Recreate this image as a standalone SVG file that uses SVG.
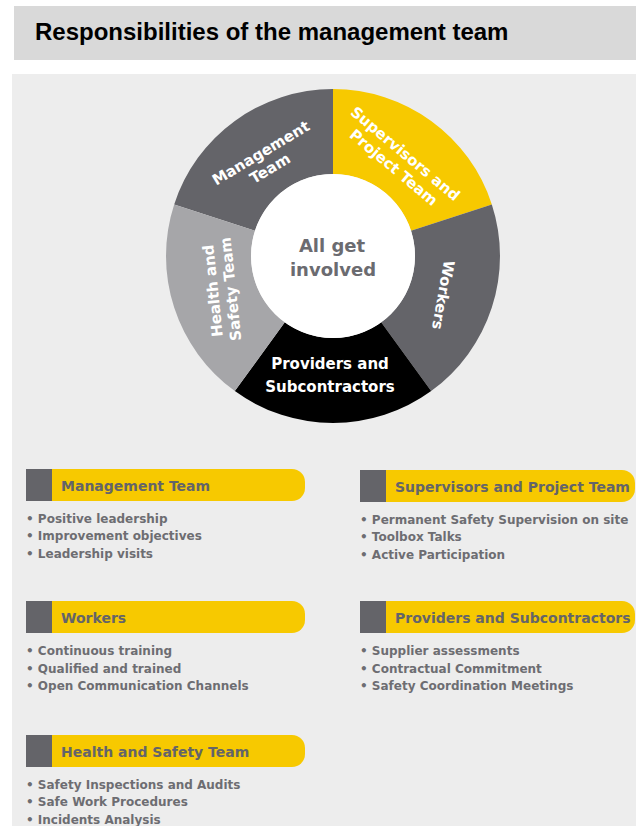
<svg xmlns="http://www.w3.org/2000/svg" width="636" height="826" viewBox="0 0 636 826">
<style>
.title{font-family:"Liberation Sans",Arial,sans-serif;font-weight:bold;font-size:24px;fill:#000}
.seg-label{font-family:"DejaVu Sans",Verdana,sans-serif;font-weight:bold;font-size:15px;fill:#fff;text-anchor:middle}
.center-label{font-family:"DejaVu Sans",Verdana,sans-serif;font-weight:bold;font-size:18px;fill:#6b6b70;text-anchor:middle}
.hdr{font-family:"DejaVu Sans",Verdana,sans-serif;font-weight:bold;font-size:14px;fill:#646469}
.bul{font-family:"DejaVu Sans",Verdana,sans-serif;font-weight:bold;font-size:12px;fill:#6d6d72}
.sq{fill:#646469}
.bar{fill:#f7c900}
</style>
<defs>
<path id="barL" d="M0,0 H240 A13,13 0 0 1 253,13 V19 A13,13 0 0 1 240,32 H0 Z"/>
</defs>
<rect x="14" y="6" width="622" height="54" fill="#d9d9d9"/>
<text class="title" x="35" y="40">Responsibilities of the management team</text>
<rect x="12" y="74" width="624" height="752" fill="#ededed"/>

<g id="seg-management">
<path d="M174.17,204.40 A167,167 0 0 1 333,89 L333,174 A82,82 0 0 0 255.01,230.66 Z" fill="#646469"/>
<g transform="translate(265,160) rotate(-31)"><text class="seg-label" y="-3">Management</text><text class="seg-label" y="15">Team</text></g>
</g>
<g id="seg-supervisors">
<path d="M333,89 A167,167 0 0 1 491.83,204.40 L410.99,230.66 A82,82 0 0 0 333,174 Z" fill="#f7c900"/>
<g transform="translate(400,160) rotate(40)"><text class="seg-label" y="-3">Supervisors and</text><text class="seg-label" y="15">Project Team</text></g>
</g>
<g id="seg-workers">
<path d="M491.83,204.40 A167,167 0 0 1 431.16,391.10 L381.20,322.34 A82,82 0 0 0 410.99,230.66 Z" fill="#646469"/>
<g transform="translate(443,295) rotate(100)"><text class="seg-label" y="5">Workers</text></g>
</g>
<g id="seg-providers">
<path d="M431.16,391.10 A167,167 0 0 1 234.84,391.10 L284.80,322.34 A82,82 0 0 0 381.20,322.34 Z" fill="#000"/>
<text class="seg-label" x="330" y="369">Providers and</text><text class="seg-label" x="330" y="392">Subcontractors</text>
</g>
<g id="seg-health">
<path d="M234.84,391.10 A167,167 0 0 1 174.17,204.40 L255.01,230.66 A82,82 0 0 0 284.80,322.34 Z" fill="#a6a6a9"/>
<g transform="translate(221,290) rotate(-96)"><text class="seg-label" y="-3">Health and</text><text class="seg-label" y="15">Safety Team</text></g>
</g>
<g id="center">
<circle cx="333" cy="256" r="82" fill="#fff"/>
<text class="center-label" x="332" y="252">All get</text>
<text class="center-label" x="333" y="276">involved</text>
</g>

<g id="box-management">
<rect class="sq" x="26" y="469" width="26" height="32"/>
<use href="#barL" class="bar" x="52" y="469"/>
<text class="hdr" x="61" y="491">Management Team</text>
<text class="bul" x="26" y="523">• Positive leadership</text>
<text class="bul" x="26" y="540">• Improvement objectives</text>
<text class="bul" x="26" y="558">• Leadership visits</text>
</g>
<g id="box-supervisors">
<rect class="sq" x="360" y="470" width="26" height="32"/>
<path class="bar" d="M386,470 H622 A13,13 0 0 1 635,483 V489 A13,13 0 0 1 622,502 H386 Z"/>
<text class="hdr" x="395" y="492">Supervisors and Project Team</text>
<text class="bul" x="360" y="524">• Permanent Safety Supervision on site</text>
<text class="bul" x="360" y="541">• Toolbox Talks</text>
<text class="bul" x="360" y="559">• Active Participation</text>
</g>
<g id="box-workers">
<rect class="sq" x="26" y="601" width="26" height="32"/>
<use href="#barL" class="bar" x="52" y="601"/>
<text class="hdr" x="61" y="623">Workers</text>
<text class="bul" x="26" y="655">• Continuous training</text>
<text class="bul" x="26" y="673">• Qualified and trained</text>
<text class="bul" x="26" y="690">• Open Communication Channels</text>
</g>
<g id="box-providers">
<rect class="sq" x="360" y="601" width="26" height="32"/>
<path class="bar" d="M386,601 H622 A13,13 0 0 1 635,614 V620 A13,13 0 0 1 622,633 H386 Z"/>
<text class="hdr" x="395" y="623">Providers and Subcontractors</text>
<text class="bul" x="360" y="655">• Supplier assessments</text>
<text class="bul" x="360" y="673">• Contractual Commitment</text>
<text class="bul" x="360" y="690">• Safety Coordination Meetings</text>
</g>
<g id="box-health">
<rect class="sq" x="26" y="735" width="26" height="32"/>
<use href="#barL" class="bar" x="52" y="735"/>
<text class="hdr" x="61" y="757">Health and Safety Team</text>
<text class="bul" x="26" y="789">• Safety Inspections and Audits</text>
<text class="bul" x="26" y="806">• Safe Work Procedures</text>
<text class="bul" x="26" y="824">• Incidents Analysis</text>
</g>
<g id="connectors"></g>
</svg>
